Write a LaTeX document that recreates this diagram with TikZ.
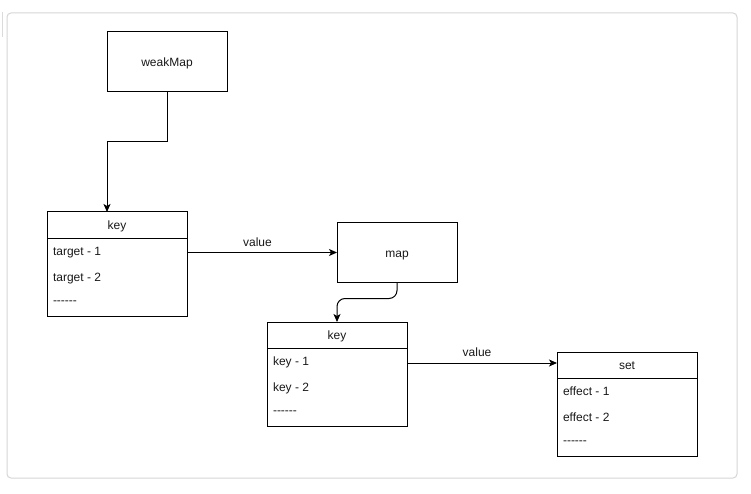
\documentclass[tikz,border=0pt]{standalone}
\usepackage{fontspec}
\setmainfont{Liberation Sans}[Ligatures=TeXOff]
\usetikzlibrary{arrows.meta,calc}
\begin{document}
\begin{tikzpicture}[x=1pt,y=-1pt,
  every node/.style={font=\fontsize{12}{14}\selectfont, text=black!90, inner sep=0pt, outer sep=0pt},
  plainbox/.style={draw=black, line width=1pt, minimum width=120pt, minimum height=60pt},
  listbox/.style={draw=black, line width=1pt, minimum width=140pt, minimum height=104pt},
  rowtext/.style={anchor=base west},
  conn/.style={draw=black, line width=1pt, -{Stealth[length=8pt,width=7pt,inset=2pt]}},
  frame/.style={draw=black!16, line width=1pt, rounded corners=4pt}
]
\useasboundingbox (0,0) rectangle (751,494);
\fill[white] (0,0) rectangle (751,494);
\draw[frame] (7,13) rectangle (737,478);
\draw[draw=black!14, line width=1pt] (2,12) -- (2,37);

% weakMap
\node[plainbox] (wm) at (167,62) {};
\node[anchor=base] (wmt) at (167,66.5) {weakMap};

% first key list
\node[listbox] (k1) at (117,264) {};
\draw[line width=1pt] (47,238) -- (187,238);
\node[anchor=base] (k1h) at (117,229.5) {key};
\node[rowtext] (k1a) at (53,255.5) {target - 1};
\node[rowtext] (k1b) at (53,281.5) {target - 2};
\node[rowtext] (k1c) at (53,304) {------};

% map
\node[plainbox] (mp) at (397,252.5) {};
\node[anchor=base] (mpt) at (397,257) {map};

% second key list
\node[listbox] (k2) at (337,374) {};
\draw[line width=1pt] (267,348) -- (407,348);
\node[anchor=base] (k2h) at (337,339.5) {key};
\node[rowtext] (k2a) at (273,365.5) {key - 1};
\node[rowtext] (k2b) at (273,391.5) {key - 2};
\node[rowtext] (k2c) at (273,414) {------};

% set list
\node[listbox] (st) at (627,404) {};
\draw[line width=1pt] (557,378) -- (697,378);
\node[anchor=base] (sth) at (627,369.5) {set};
\node[rowtext] (sta) at (563,395.5) {effect - 1};
\node[rowtext] (stb) at (563,421.5) {effect - 2};
\node[rowtext] (stc) at (563,444) {------};

% connectors
\draw[conn] (wm.south) -- ++(0,50) -| ([xshift=-10pt]k1.north);
\draw[conn] (k1.east |- mp.west) -- (mp.west);
\node[anchor=base] (lbl1) at (257.5,246) {value};
\draw[conn, rounded corners=8pt] (mp.south) -- ++(0,16) -| (k2.north);
\coordinate (stin) at ([yshift=-11pt]st.north west);
\draw[conn] (k2.east |- stin) -- (stin);
\node[anchor=base] (lbl2) at (477,356) {value};
\end{tikzpicture}
\end{document}
